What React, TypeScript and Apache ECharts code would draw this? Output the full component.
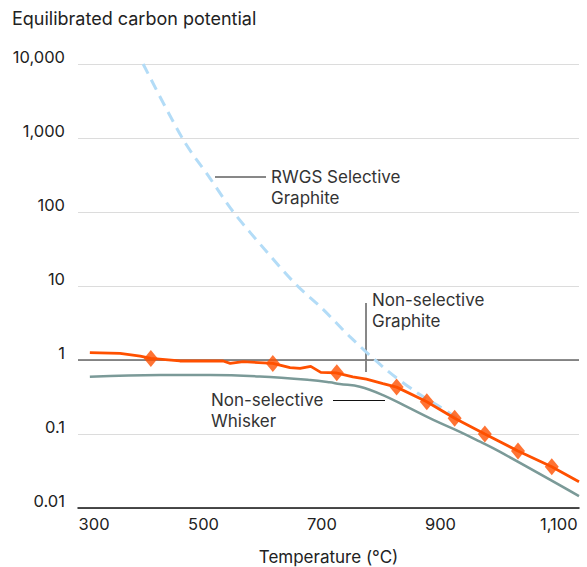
import React, { useEffect, useRef } from "react";
import * as echarts from "echarts";

// Non-selective Whisker (grey-teal curve)
const whiskerT = [308, 427, 511, 595, 680, 713, 730, 764, 803, 843, 888, 933, 967, 1000, 1134];
const whiskerV = [0.594, 0.627, 0.627, 0.6, 0.537, 0.5, 0.474, 0.436, 0.336, 0.234, 0.155, 0.107, 0.0787, 0.0577, 0.0145];

// Non-selective Graphite (orange jagged line)
const graphiteT = [308, 359, 393, 411, 460, 533, 545, 567, 617, 646, 663, 681, 698, 724, 752, 775, 803, 826, 877, 924, 975, 1031, 1088, 1134];
const graphiteV = [1.26, 1.23, 1.13, 1.05, 0.97, 0.97, 0.9, 0.95, 0.9, 0.79, 0.77, 0.82, 0.68, 0.67, 0.59, 0.55, 0.48, 0.43, 0.273, 0.163, 0.1, 0.059, 0.036, 0.0227];

// Diamond markers on the orange line
const markerT = [411, 617, 725, 826, 877, 924, 975, 1031, 1088];
const markerV = [1.05, 0.9, 0.67, 0.43, 0.273, 0.163, 0.1, 0.059, 0.036];

// RWGS Selective Graphite (light blue dashed)
const rwgsT = [398, 466, 511, 550, 607, 657, 700, 747, 809, 862, 899, 930];
const rwgsV = [10000, 940, 285, 101, 28.8, 10.3, 5.0, 2.07, 0.733, 0.355, 0.234, 0.16];

// Axis ticks
const xTicks = [300, 500, 700, 900, 1100];
const yTicks = [0.01, 0.1, 1, 10, 100, 1000, 10000];

const FONT = "Inter";
const TEXT = "#222";

const zip = (a: number[], b: number[]) => a.map((v, i) => [v, b[i]]);
const fmt = (v: number) =>
  v >= 1 ? Math.round(v).toLocaleString("en-US") : String(v);

export default function App() {
  const ref = useRef<HTMLDivElement>(null);
  useEffect(() => {
    document.body.style.margin = "0";
    if (!ref.current) return;
    const chart = echarts.init(ref.current, null, { renderer: "svg" });
    const textStyle = { fill: "#333", fontSize: 17, fontFamily: FONT };
    chart.setOption({
      animation: false,
      textStyle: { fontFamily: FONT },
      grid: {
        left: 78,
        right: 8,
        top: 64,
        bottom: 59,
        containLabel: false,
        outerBoundsMode: "none",
      },
      xAxis: {
        type: "value",
        min: 288,
        max: 1134,
        name: "Temperature (°C)",
        nameLocation: "middle",
        nameGap: 40,
        nameTextStyle: { color: TEXT, fontSize: 17, fontFamily: FONT },
        axisLine: { show: true, lineStyle: { color: "#111", width: 1.5 } },
        axisTick: { show: false },
        splitLine: { show: false },
        axisLabel: {
          customValues: xTicks,
          color: TEXT,
          fontSize: 16.5,
          fontFamily: FONT,
          margin: 7,
          formatter: (v: number) => (v === 300 ? "{p|300}" : fmt(v)),
          rich: {
            p: { padding: [0, 0, 0, 18], fontSize: 16.5, fontFamily: FONT, color: TEXT },
          },
        },
      },
      yAxis: {
        type: "log",
        logBase: 10,
        min: 0.01,
        max: 10000,
        axisLine: { show: false },
        axisTick: { show: false },
        splitLine: { show: true, lineStyle: { color: "#dcdcdc", width: 1 } },
        axisLabel: {
          color: TEXT,
          fontSize: 16.5,
          fontFamily: FONT,
          margin: 13,
          verticalAlign: "bottom",
          lineHeight: 15,
          formatter: (v: number) => (yTicks.some((t) => Math.abs(t - v) / t < 1e-6) ? fmt(v) : ""),
        },
      },
      graphic: [
        {
          type: "text",
          x: 12,
          y: 18,
          style: {
            text: "Equilibrated carbon potential",
            fill: TEXT,
            fontSize: 18,
            fontFamily: FONT,
            textVerticalAlign: "middle",
          },
        },
        { type: "line", shape: { x1: 215, y1: 177, x2: 266, y2: 177 }, style: { stroke: "#111", lineWidth: 1 } },
        {
          type: "text",
          x: 271,
          y: 187.5,
          style: { ...textStyle, text: "RWGS Selective\nGraphite", lineHeight: 21, textVerticalAlign: "middle" },
        },
        { type: "line", shape: { x1: 366, y1: 303, x2: 366, y2: 372 }, style: { stroke: "#111", lineWidth: 1 } },
        {
          type: "text",
          x: 372,
          y: 310,
          style: { ...textStyle, text: "Non-selective\nGraphite", lineHeight: 21, textVerticalAlign: "middle" },
        },
        { type: "line", shape: { x1: 333, y1: 400.5, x2: 385, y2: 400.5 }, style: { stroke: "#111", lineWidth: 1 } },
        {
          type: "text",
          x: 211,
          y: 410,
          style: { ...textStyle, text: "Non-selective\nWhisker", lineHeight: 21, textVerticalAlign: "middle" },
        },
      ],
      series: [
        {
          type: "line",
          name: "Whisker",
          data: zip(whiskerT, whiskerV),
          smooth: 0.4,
          showSymbol: false,
          lineStyle: { color: "#7b9a98", width: 2.5 },
          z: 2,
          markLine: {
            silent: true,
            symbol: "none",
            label: { show: false },
            lineStyle: { color: "#666", width: 1.5, type: "solid" },
            data: [{ yAxis: 1 }],
            z: 1,
          },
        },
        {
          type: "line",
          name: "RWGS",
          data: zip(rwgsT, rwgsV),
          smooth: 0.3,
          showSymbol: false,
          lineStyle: { color: "#b3dcf7", width: 3, type: [11, 7] },
          z: 3,
        },
        {
          type: "line",
          name: "Graphite",
          data: zip(graphiteT, graphiteV),
          showSymbol: false,
          lineStyle: { color: "#ff5000", width: 2.8 },
          z: 4,
        },
        {
          type: "scatter",
          name: "Markers",
          data: zip(markerT, markerV),
          symbol: "diamond",
          symbolSize: [14, 17],
          itemStyle: { color: "#ff5000" },
          z: 5,
        },
      ],
    });
    return () => chart.dispose();
  }, []);
  return <div ref={ref} style={{ width: 587, height: 567 }} />;
}
